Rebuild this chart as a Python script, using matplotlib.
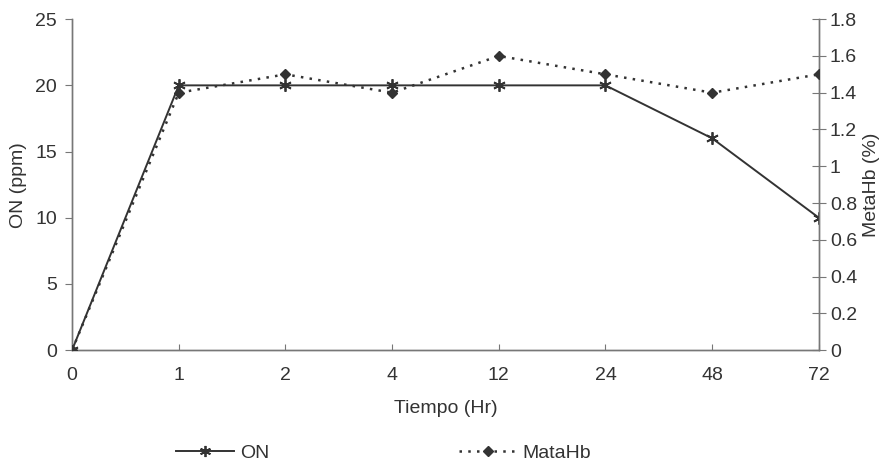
import numpy as np
from matplotlib import pyplot as plt
from matplotlib.lines import Line2D

plt.rcParams['font.family'] = ['Liberation Sans', 'DejaVu Sans']

tiempo = ['0', '1', '2', '4', '12', '24', '48', '72']
on_ppm = [0, 20, 20, 20, 20, 20, 16, 10]
metahb = [0, 1.4, 1.5, 1.4, 1.6, 1.5, 1.4, 1.5]

col = '#333333'
axc = '#777777'
fs = 14

fig = plt.figure(figsize=(8.9, 4.68), dpi=100)
ax = fig.add_axes([0.081, 0.252, 0.839, 0.707])
ax2 = ax.twinx()

x = np.arange(len(tiempo))
l1, = ax.plot(x, on_ppm, color=col, lw=1.4, marker=(6, 2, 0), ms=9, mew=1.3,
              label='ON', zorder=3)
l2, = ax2.plot(x, metahb, color=col, lw=1.8, ls=(0, (1, 2.5)), marker='D', ms=5.5,
               label='MataHb', zorder=3)

ax.set_xlim(0, len(tiempo) - 1)
ax.set_ylim(0, 25)
ax2.set_ylim(0, 1.8)
ax.set_xticks(x)
ax.set_xticklabels(tiempo)
ax.set_yticks([0, 5, 10, 15, 20, 25])
ax2.set_yticks([0, 0.2, 0.4, 0.6, 0.8, 1, 1.2, 1.4, 1.6, 1.8])
ax2.set_yticklabels(['0', '0.2', '0.4', '0.6', '0.8', '1', '1.2', '1.4', '1.6', '1.8'])

for a in (ax, ax2):
    a.spines['top'].set_visible(False)
    for s in ('left', 'right', 'bottom'):
        a.spines[s].set_color(axc)
        a.spines[s].set_linewidth(1.0)

ax.tick_params(axis='y', direction='out', length=5, color=axc, labelsize=fs, labelcolor=col, pad=6)
ax.tick_params(axis='x', direction='in', length=4, color=axc, labelsize=fs, labelcolor=col, pad=12)
ax2.tick_params(axis='y', direction='inout', length=10, color=axc, labelsize=fs, labelcolor=col, pad=3)

ax.set_ylabel('ON (ppm)', fontsize=fs, color=col, labelpad=6)
ax2.set_ylabel('MetaHb (%)', fontsize=fs, color=col, labelpad=4)
ax.set_xlabel('Tiempo (Hr)', fontsize=fs, color=col, labelpad=12)

h1 = Line2D([], [], color=col, lw=1.4, marker=(6, 2, 0), ms=8, mew=1.3)
h2 = Line2D([], [], color=col, lw=1.8, ls=(0, (1, 2.5)), marker='D', ms=5)
fig.legend([h1, h2], ['ON', 'MataHb'], loc='center', bbox_to_anchor=(0.431, 0.032),
           ncol=2, frameon=False, fontsize=fs, handlelength=3.0, handletextpad=0.3,
           columnspacing=9.75, labelcolor=col)

fig.savefig('out.png', dpi=100)
